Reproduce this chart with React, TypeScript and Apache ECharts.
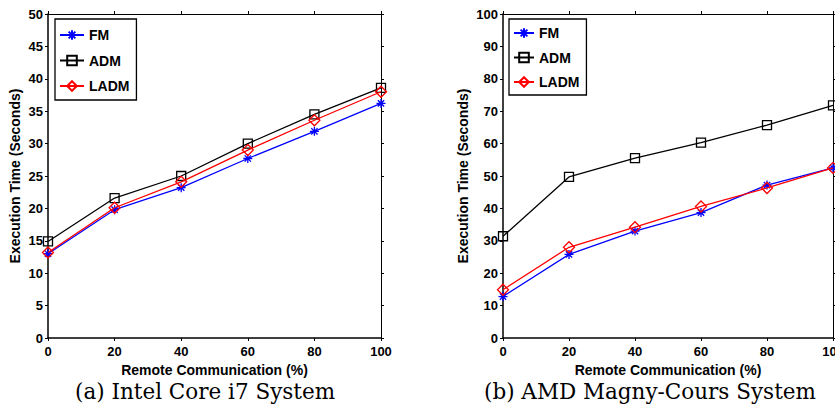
import React, { useEffect, useRef } from "react";
import * as echarts from "echarts";

const xValues = [0, 20, 40, 60, 80, 100];
const intelFM = [13.0, 19.8, 23.2, 27.7, 31.9, 36.2];
const intelADM = [14.9, 21.6, 25.0, 30.0, 34.5, 38.6];
const intelLADM = [13.2, 20.1, 24.1, 29.0, 33.6, 38.0];
const amdFM = [12.8, 25.8, 33.0, 38.7, 47.2, 52.5];
const amdADM = [31.4, 49.7, 55.5, 60.3, 65.7, 71.8];
const amdLADM = [14.9, 28.0, 34.2, 40.6, 46.3, 52.5];
const seriesNames = ["FM", "ADM", "LADM"];
const captions = ["(a) Intel Core i7 System", "(b) AMD Magny-Cours System"];
const xAxisTitle = "Remote Communication (%)";
const yAxisTitle = "Execution Time (Seconds)";
const intelYMax = 50;
const intelYStep = 5;
const amdYMax = 100;
const amdYStep = 10;
const xStep = 20;

const SANS = "'Liberation Sans', Arial, sans-serif";
const ASTERISK = "path://M5 0L5 10M0 5L10 5M1.5 1.5L8.5 8.5M1.5 8.5L8.5 1.5";

const colors = ["#0000ff", "#000000", "#ff0000"];
const symbols = [ASTERISK, "rect", "diamond"];
const symbolSizes = [9, 9, 11];

function toPairs(ys: number[]) {
  return xValues.map((x, i) => [x, ys[i]]);
}

export default function App() {
  const ref = useRef<HTMLDivElement>(null);
  useEffect(() => {
    if (!ref.current) return;
    const chart = echarts.init(ref.current, null, { renderer: "svg" });

    const grids = [
      { left: 48, top: 14, width: 333, height: 324, outerBoundsMode: "none", containLabel: false },
      { left: 503, top: 14, width: 330, height: 324, outerBoundsMode: "none", containLabel: false },
    ];
    const yMax = [intelYMax, amdYMax];
    const yStep = [intelYStep, amdYStep];
    const yNameGap = [26, 33];

    const xAxes: any[] = [];
    const yAxes: any[] = [];
    [0, 1].forEach((g) => {
      xAxes.push({
        type: "value",
        gridIndex: g,
        min: 0,
        max: 100,
        interval: xStep,
        position: "bottom",
        name: xAxisTitle,
        nameLocation: "middle",
        nameGap: 21,
        nameTextStyle: { fontFamily: SANS, fontWeight: "bold", fontSize: 14, color: "#000" },
        axisLine: { show: true, onZero: false, lineStyle: { color: "#000", width: 1.5 } },
        axisTick: { show: true, inside: false, length: 3, lineStyle: { color: "#000", width: 1 } },
        axisLabel: { show: true, margin: 7, fontFamily: SANS, fontWeight: "bold", fontSize: 13, color: "#000" },
        splitLine: { show: false },
      });
      xAxes.push({
        type: "value",
        gridIndex: g,
        min: 0,
        max: 100,
        interval: xStep,
        position: "top",
        axisLine: { show: true, onZero: false, lineStyle: { color: "#000", width: 1 } },
        axisTick: { show: true, inside: false, length: 3, lineStyle: { color: "#000", width: 1 } },
        axisLabel: { show: false },
        splitLine: { show: false },
      });
      yAxes.push({
        type: "value",
        gridIndex: g,
        min: 0,
        max: yMax[g],
        interval: yStep[g],
        position: "left",
        name: yAxisTitle,
        nameLocation: "middle",
        nameGap: yNameGap[g],
        nameTextStyle: { fontFamily: SANS, fontWeight: "bold", fontSize: 14, color: "#000" },
        axisLine: { show: true, onZero: false, lineStyle: { color: "#000", width: 1.5 } },
        axisTick: { show: true, inside: false, length: 3, lineStyle: { color: "#000", width: 1 } },
        axisLabel: { show: true, margin: 5, fontFamily: SANS, fontWeight: "bold", fontSize: 13, color: "#000" },
        splitLine: { show: false },
      });
      yAxes.push({
        type: "value",
        gridIndex: g,
        min: 0,
        max: yMax[g],
        interval: yStep[g],
        position: "right",
        axisLine: { show: true, onZero: false, lineStyle: { color: "#000", width: 1 } },
        axisTick: { show: true, inside: false, length: 3, lineStyle: { color: "#000", width: 1 } },
        axisLabel: { show: false },
        splitLine: { show: false },
      });
    });

    const datasets = [
      [intelFM, intelADM, intelLADM],
      [amdFM, amdADM, amdLADM],
    ];
    const series: any[] = [];
    [0, 1].forEach((g) => {
      datasets[g].forEach((ys, k) => {
        series.push({
          type: "line",
          name: seriesNames[k],
          xAxisIndex: g * 2,
          yAxisIndex: g * 2,
          data: toPairs(ys),
          symbol: symbols[k],
          symbolSize: symbolSizes[k],
          showAllSymbol: true,
          lineStyle: { color: colors[k], width: 1.3 },
          itemStyle: { color: "rgba(0,0,0,0)", borderColor: colors[k], borderWidth: 1.3 },
          z: 3 + k,
        });
      });
    });

    const legendBase = {
      orient: "vertical",
      borderColor: "#000",
      borderWidth: 1.3,
      backgroundColor: "#fff",
      borderRadius: 0,
      itemHeight: 12,
      textStyle: { fontFamily: SANS, fontWeight: "bold", fontSize: 14, color: "#000" },
      data: seriesNames,
      selectedMode: false,
    };

    chart.setOption({
      animation: false,
      backgroundColor: "#fff",
      grid: grids,
      xAxis: xAxes,
      yAxis: yAxes,
      series,
      legend: [
        { ...legendBase, left: 55, top: 19, itemWidth: 24, itemGap: 11.5, padding: [9, 7, 7, 4] },
        { ...legendBase, left: 509, top: 19, itemWidth: 20, itemGap: 10.5, padding: [7, 7, 6, 4] },
      ],
      graphic: [
        {
          type: "text",
          left: 75,
          top: 380,
          style: { text: captions[0], font: "normal 21.5px 'DejaVu Serif', serif", fill: "#000" },
        },
        {
          type: "text",
          left: 484,
          top: 380,
          style: { text: captions[1], font: "normal 21.5px 'DejaVu Serif', serif", fill: "#000" },
        },
      ],
    });
    return () => chart.dispose();
  }, []);
  return (
    <div
      ref={ref}
      style={{ position: "absolute", left: 0, top: 0, width: 835, height: 407, background: "#fff" }}
    />
  );
}
